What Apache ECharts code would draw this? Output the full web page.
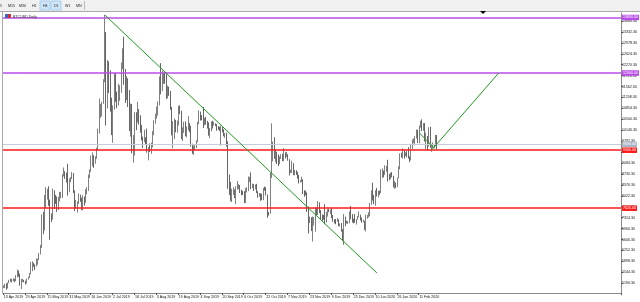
<!DOCTYPE html>
<html><head><meta charset="utf-8">
<script src="https://cdn.jsdelivr.net/npm/echarts@6/dist/echarts.min.js"></script>
<style>html,body{margin:0;padding:0;background:#fff;overflow:hidden}#c{width:640px;height:302px}</style>
</head><body><div id="c"></div>
<script>
// ---------------- DATA ----------------
const symbolTitle = 'BTCUSD,Daily';
const startDate = '2019-04-13';
const totalSlots = 452;            // bars incl. empty right shift
const firstOpen = 5050;
// daily closes 13 Apr 2019 .. 24 Feb 2020
const closes = [
 5070,5150,5030,5200,5240,5290,5270,5320,5280,5390,5500,5440,5190,5270,5280,5270,5200,5320,
 5380,5490,5760,5820,5790,5730,5830,5950,6150,6350,7220,6960,7790,7990,8190,7860,7350,7260,8190,7990,7940,7610,7960,7990,8050,8660,8800,8720,8660,8280,8550,
 8560,8740,8210,7700,7790,7810,8000,7940,7630,8000,7920,8150,8240,8700,8840,8980,9330,9080,9280,9520,10150,10700,10850,11000,11780,12950,11160,12370,11880,10810,
 10580,10810,11950,11140,10980,11240,11460,12300,12560,12100,11350,11800,11380,10200,10850,9450,9680,10650,10550,10760,10600,10340,9900,9830,9880,9850,9510,9550,9510,9600,10090,
 10410,10540,10830,10960,11790,11460,11950,11960,11850,11290,11550,11380,10880,10050,10310,10360,10220,10330,10920,10760,10130,10150,10400,10140,10140,10360,10180,9710,9520,9600,9600,
 9760,10380,10620,10600,10580,10320,10490,10410,10330,10100,10160,10420,10360,10360,10310,10260,10200,10160,10280,10170,9980,10030,9700,8530,8430,8060,8190,8210,8040,8290,
 8340,8380,8230,8160,8150,7870,8200,8200,8590,8590,8270,8300,8290,8360,8160,8000,8090,7960,7950,8240,8220,8050,7460,7450,8650,9250,9550,9250,9430,9200,9150,
 9250,9300,9200,9400,9320,9350,9200,8800,8810,9050,8730,8820,8760,8640,8480,8510,8550,8170,8120,8080,7600,7270,7310,6950,7160,7170,7510,7420,7750,7550,
 7400,7310,7300,7200,7400,7540,7510,7520,7340,7220,7200,7190,7250,7070,7110,6890,6620,7280,7150,7190,7140,7510,7320,7260,7200,7190,7250,7320,7390,7250,7190,
 7200,6960,7350,7360,7360,7760,8160,8050,7820,8190,8020,8180,8110,8810,8820,8720,8900,8910,8700,8630,8730,8660,8390,8440,8330,8600,8900,9380,9290,9500,9340,
 9380,9350,9290,9180,9610,9750,9800,9900,10160,9850,10260,10350,10260,10360,9900,9930,9700,10180,9600,9610,9690,9660,9960,9690
];
const highs = [
 5120,5170,5190,5220,5300,5340,5330,5350,5330,5450,5630,5600,5500,5330,5330,5300,5270,5340,
 5400,5520,5880,5900,5850,5800,5990,5990,6170,6430,7420,7500,8050,8300,8250,8330,7900,7450,8260,8200,8050,8000,7980,8150,8150,8720,8940,8820,8770,9060,8580,
 8630,8790,8760,8200,7890,7840,8100,8060,7960,8040,8000,8240,8300,8710,8880,9330,9430,9340,9300,9580,10200,11170,11000,11070,11800,13880,13330,12420,12380,12090,
 11200,10950,11990,12000,11400,11650,11600,12340,12800,13180,12130,11900,11830,11450,11010,11000,9990,10730,10730,11070,10830,10630,10320,9940,10160,9920,10200,9600,9720,9750,10120,
 10470,10680,10910,11080,11890,12320,12080,12000,12030,11960,11590,11560,11420,10900,10440,10530,10480,10460,10940,10950,10780,10240,10420,10430,10270,10600,10380,10290,9710,9650,9660,
 9820,10420,10790,10750,10640,10900,10540,10580,10450,10400,10220,10430,10450,10420,10370,10350,10280,10260,10300,10260,10180,10060,10070,9790,8710,8470,8250,8300,8230,8330,
 8500,8400,8370,8220,8180,8170,8270,8300,8650,8630,8780,8420,8400,8390,8410,8170,8110,8100,8090,8280,8320,8300,8060,7500,8770,10370,9780,9920,9520,9450,9360,
 9300,9370,9380,9570,9430,9450,9370,9210,8870,9160,9080,8860,8850,8800,8700,8540,8640,8560,8200,8190,8130,7680,7350,7330,7350,7330,7640,7620,7850,7810,
 7560,7420,7400,7750,7500,7590,7600,7580,7620,7400,7260,7270,7300,7260,7130,7140,6940,7430,7350,7220,7200,7520,7690,7430,7280,7430,7270,7370,7520,7410,7320,
 7250,7210,7410,7400,7490,7790,8200,8450,8050,8200,8280,8190,8190,8880,8910,8840,9010,8990,9190,8730,8770,8790,8670,8500,8450,8610,8980,9400,9420,9560,9520,
 9430,9470,9600,9300,9700,9850,9880,9950,10170,10160,10300,10450,10500,10380,10380,10070,9960,10240,10260,9650,9750,9690,9990,9990
];
const lows = [
 5030,5030,4980,5020,5190,5230,5220,5260,5220,5260,5380,5400,5110,5000,5230,5220,5150,5180,
 5310,5360,5480,5580,5720,5620,5730,5790,5940,6120,6330,6780,6900,7630,7900,7700,6600,7170,7250,7600,7760,7500,7560,7840,7940,7950,8650,8570,8450,8030,8140,
 8470,8560,8110,7530,7610,7480,7760,7830,7560,7550,7700,7800,8070,8180,8600,8800,8980,8930,9060,9220,9500,10040,10550,10590,11000,11700,10300,10850,11350,10750,
 9990,9740,10820,11070,10860,10950,11100,11360,12120,11620,11030,11120,10900,10120,9940,9400,9100,9330,10150,10400,10330,10070,9820,9570,9760,9680,9420,9170,9440,9380,9590,
 9990,10360,10520,10620,10950,11310,11420,11650,11650,11160,11180,11260,10810,9980,9560,9860,10080,10070,10300,10670,9860,9800,10060,9950,9920,10140,10080,9620,9380,9350,9500,
 9570,9760,10340,10460,10470,10220,10310,10330,10200,9970,9890,10110,10200,10300,10280,10130,10160,10120,9650,10080,9950,9900,9620,8250,8050,7850,7820,8050,7950,7750,
 8220,8240,8110,8040,8050,7790,7790,8130,8170,8470,8240,8270,8180,8230,8110,7960,7990,7860,7880,7880,8190,8030,7310,7380,7440,8600,9140,9220,9110,9050,8980,
 9050,9220,9150,9140,9230,9280,9160,8680,8760,8760,8690,8690,8700,8580,8420,8460,8460,8080,7990,8040,7500,6800,7140,6880,6540,7060,6860,7390,7400,7460,
 7250,7210,7250,7100,7160,7350,7490,7430,7300,7180,7130,7100,7180,7040,7030,6860,6570,6430,7040,7120,7120,7130,7260,7160,7130,7150,7090,7250,7320,7220,7150,
 7170,6920,6870,7280,7320,7360,7730,7870,7750,7700,8000,7970,8050,8110,8600,8620,8700,8800,8480,8530,8560,8620,8300,8250,8270,8300,8590,8880,9260,9230,9230,
 9310,9270,9230,9110,9170,9540,9730,9660,9880,9730,9720,10230,10120,10130,9780,9530,9480,9620,9580,9450,9570,9580,9660,9520
];
// price scale tick labels (right axis)
const yTickLabels = [13686.30,13332.30,12978.30,12624.30,12270.30,11916.30,11562.30,11208.30,10854.30,10500.30,10146.30,9792.30,9438.30,9084.30,8730.30,8376.30,8022.30,7668.30,7314.30,6960.30,6606.30,6252.30,5898.30,5544.30,5190.30];
// horizontal levels
const purpleLevels = [13800, 12000];
const redLevels = [9500, 7620];
const bidPrice = 9690;
// trend lines [date, price]
const trendMain = [['2019-06-26', 13880], ['2020-01-11', 5520]];
const trendUp = [['2020-02-20', 9506], ['2020-04-09', 12000]];
const trendShort = [['2020-02-11', 10057], ['2020-02-22', 9571]];
const timeframes = ['M5','M15','M30','H1','H4','D1','W1','MN'];
const activeFrames = ['H4','D1'];
const labelEvery = 16;
// --------------------------------------

if (closes.length !== highs.length || closes.length !== lows.length) {
  throw new Error('len mismatch ' + closes.length + ' ' + highs.length + ' ' + lows.length);
}
const MON = ['Jan','Feb','Mar','Apr','May','Jun','Jul','Aug','Sep','Oct','Nov','Dec'];
const categories = [];
{
  const t0 = Date.parse(startDate + 'T00:00:00Z');
  for (let i = 0; i < totalSlots; i++) {
    const d = new Date(t0 + i * 86400000);
    categories.push(d.toISOString().slice(0, 10));
  }
}
function fmtDate(s) {
  const [y, m, d] = s.split('-');
  return (+d) + ' ' + MON[+m - 1] + ' ' + y;
}
const candles = closes.map((c, i) => [i === 0 ? firstOpen : closes[i - 1], c, lows[i], highs[i]]);
const nBars = candles.length;

const PURPLE = '#b84ce8', RED = '#ff1a1a', GREEN = '#1f9a1f', BIDC = '#c4ccd8';
const FONT = 'Liberation Sans';
const FS = 3.6;

function levelLine(v, color, w, boxColor, txtColor) {
  return {
    yAxis: v,
    lineStyle: { color: color, width: w, type: 'solid' },
    label: {
      show: true, position: 'end', distance: 1,
      formatter: v.toFixed(2), backgroundColor: boxColor, color: txtColor,
      fontSize: FS, fontFamily: FONT, padding: [1, 1, 0.5, 1]
    }
  };
}

const chart = echarts.init(document.getElementById('c'), null, { renderer: 'canvas' });

const tfGraphics = [];
const tfX = [-3, 8, 19, 32, 43, 54, 65, 76];
timeframes.forEach((t, i) => {
  if (activeFrames.includes(t)) {
    tfGraphics.push({ type: 'rect', shape: { x: tfX[i] - 3, y: 1, width: 10, height: 9 }, style: { fill: '#cde5f7', stroke: '#a6cdee', lineWidth: 1 }, z: 10 });
  }
  tfGraphics.push({ type: 'text', x: tfX[i], y: 4, style: { text: t, fontSize: FS, fill: '#222', fontFamily: FONT }, z: 11 });
});

const showIdx = (i) => i % labelEvery === 0 && i < nBars;

chart.setOption({
  animation: false,
  backgroundColor: '#ffffff',
  grid: { left: 3, right: 17, top: 13, bottom: 9, containLabel: false },
  xAxis: {
    type: 'category', data: categories, boundaryGap: true,
    axisLine: { show: true, lineStyle: { color: '#8a8a8a', width: 1 } },
    axisTick: { show: true, length: 2, interval: showIdx, lineStyle: { color: '#555' } },
    axisLabel: {
      show: true, interval: showIdx, showMinLabel: true, hideOverlap: false,
      formatter: (v) => fmtDate(v), align: 'left', fontSize: FS, color: '#111',
      fontFamily: FONT, margin: 2
    },
    splitLine: { show: false }
  },
  yAxis: {
    type: 'value', position: 'right', min: 4873, max: 13945, scale: true,
    axisLine: { show: true, lineStyle: { color: '#8a8a8a', width: 1 } },
    axisTick: { show: true, length: 2, customValues: yTickLabels, lineStyle: { color: '#555' } },
    axisLabel: {
      show: true, customValues: yTickLabels, formatter: (v) => v.toFixed(2),
      fontSize: FS, color: '#111', fontFamily: FONT, margin: 1
    },
    splitLine: { show: false }
  },
  series: [
    {
      type: 'candlestick', data: candles, barWidth: 1.25,
      itemStyle: { color: '#8e8e8e', color0: '#111111', borderColor: '#555555', borderColor0: '#333333', borderWidth: 0.75 },
      markLine: {
        silent: true, symbol: 'none', animation: false,
        data: [
          levelLine(bidPrice, BIDC, 1.2, '#aab6c6', '#ffffff'),
          levelLine(purpleLevels[0], PURPLE, 1.5, PURPLE, '#ffffff'),
          levelLine(purpleLevels[1], PURPLE, 1.5, PURPLE, '#ffffff'),
          levelLine(redLevels[0], RED, 1.5, RED, '#ffffff'),
          levelLine(redLevels[1], RED, 1.5, RED, '#ffffff')
        ]
      },
      z: 3
    },
    { type: 'line', data: trendMain, symbol: 'none', lineStyle: { color: GREEN, width: 1 }, z: 5, silent: true },
    { type: 'line', data: trendUp, symbol: 'none', lineStyle: { color: GREEN, width: 1 }, z: 5, silent: true },
    { type: 'line', data: trendShort, symbol: 'none', lineStyle: { color: GREEN, width: 1 }, z: 5, silent: true }
  ],
  graphic: [
    { type: 'rect', shape: { x: 0, y: 0, width: 640, height: 11 }, style: { fill: '#f0f0f0' }, z: 9 },
    ...tfGraphics,
    { type: 'line', shape: { x1: 84.5, y1: 1, x2: 84.5, y2: 10 }, style: { stroke: '#bdbdbd', lineWidth: 1 }, z: 11 },
    { type: 'line', shape: { x1: 0, y1: 11.5, x2: 640, y2: 11.5 }, style: { stroke: '#a9a9a9', lineWidth: 1 }, z: 11 },
    { type: 'line', shape: { x1: 2.5, y1: 12, x2: 2.5, y2: 293 }, style: { stroke: '#a9a9a9', lineWidth: 1 }, z: 11 },
    { type: 'rect', shape: { x: 5, y: 14, width: 3, height: 4 }, style: { fill: '#3a66c8' }, z: 11 },
    { type: 'rect', shape: { x: 8, y: 14, width: 3, height: 4 }, style: { fill: '#d23030' }, z: 11 },
    { type: 'text', x: 13, y: 14.5, style: { text: symbolTitle, fontSize: FS, fill: '#222', fontFamily: FONT }, z: 11 },
    { type: 'polygon', shape: { points: [[480, 11], [486, 11], [483, 14]] }, style: { fill: '#000' }, z: 12 }
  ]
});
</script>
</body></html>
